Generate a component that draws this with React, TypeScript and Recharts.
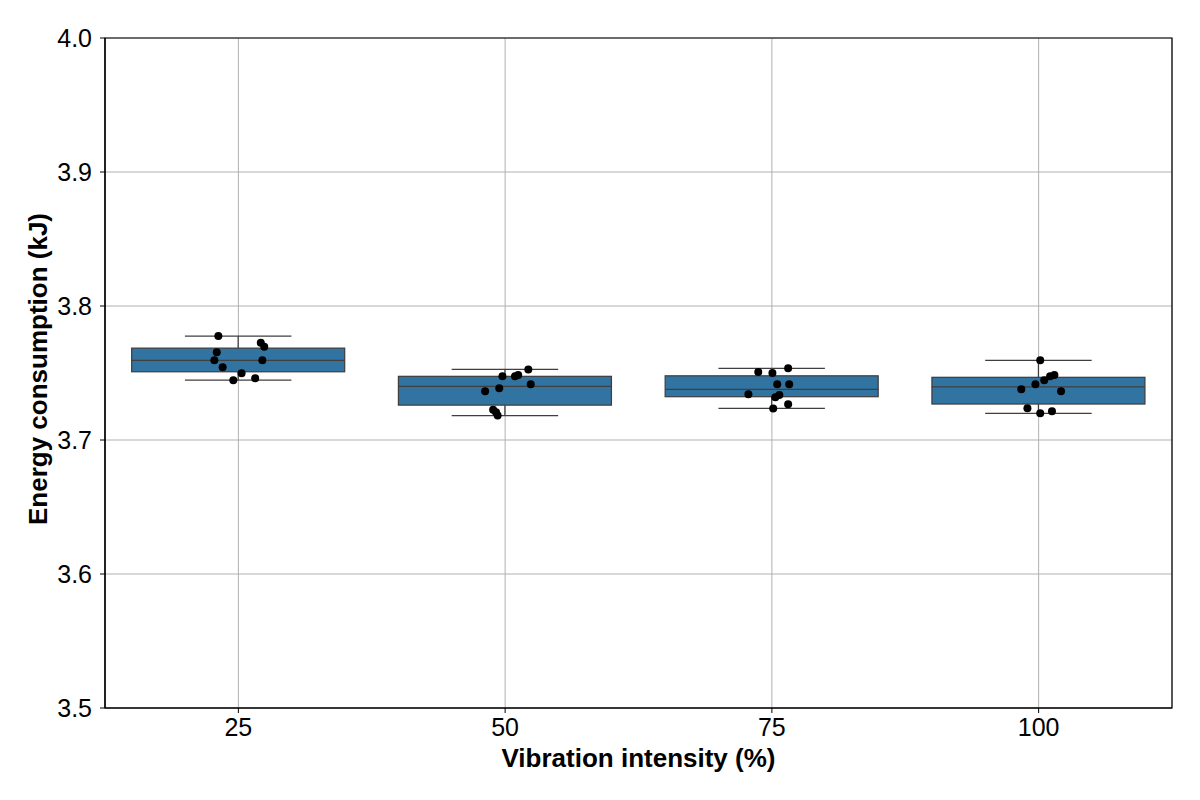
import React from "react"
import {
  Bar,
  CartesianGrid,
  ComposedChart,
  ReferenceArea,
  Scatter,
  XAxis,
  YAxis,
} from "recharts"

// vibration intensity levels (%)
const categories = ["25", "50", "75", "100"]

// measured energy consumption per run (kJ)
const energy25 = [3.7776, 3.7726, 3.7696, 3.7654, 3.7595, 3.7595, 3.7543, 3.7498, 3.746, 3.7446]
const energy50 = [3.7527, 3.7475, 3.7475, 3.7485, 3.7416, 3.7386, 3.7363, 3.7226, 3.7207, 3.7182]
const energy75 = [3.7535, 3.7507, 3.75, 3.7416, 3.7416, 3.7341, 3.7336, 3.7319, 3.7266, 3.7236]
const energy100 = [3.7595, 3.7485, 3.7475, 3.7446, 3.7416, 3.7378, 3.7363, 3.7237, 3.7214, 3.7199]

// horizontal strip-plot jitter, in category widths
const jitter25 = [-0.075, 0.084, 0.097, -0.081, -0.09, 0.09, -0.059, 0.012, 0.063, -0.019]
const jitter50 = [0.087, -0.01, 0.037, 0.049, 0.096, -0.022, -0.075, -0.045, -0.034, -0.028]
const jitter75 = [0.061, -0.051, 0.002, 0.02, 0.065, -0.088, 0.028, 0.013, 0.061, 0.005]
const jitter100 = [0.006, 0.059, 0.043, 0.021, -0.012, -0.065, 0.084, -0.042, 0.05, 0.006]

const yTicks = [3.5, 3.6, 3.7, 3.8, 3.9, 4.0]

const groups = [energy25, energy50, energy75, energy100]
const jitters = [jitter25, jitter50, jitter75, jitter100]

const FONT = "'Liberation Sans', Arial, sans-serif"
const BOX_FILL = "#3274a1"
const BOX_EDGE = "#3f3f3f"

// linear-interpolated quantile, same as pandas/numpy default
function quantile(values: number[], q: number) {
  const s = [...values].sort((a, b) => a - b)
  const pos = (s.length - 1) * q
  const lo = Math.floor(pos)
  const hi = Math.ceil(pos)
  return s[lo] + (s[hi] - s[lo]) * (pos - lo)
}

const boxData = categories.map((name, i) => {
  const vals = groups[i]
  const q1 = quantile(vals, 0.25)
  const median = quantile(vals, 0.5)
  const q3 = quantile(vals, 0.75)
  const iqr = q3 - q1
  const lo = Math.min(...vals.filter((v) => v >= q1 - 1.5 * iqr))
  const hi = Math.max(...vals.filter((v) => v <= q3 + 1.5 * iqr))
  return { name, q1, median, q3, lo, hi, range: [lo, hi] }
})

const pointData = groups.flatMap((vals, i) =>
  vals.map((v, k) => ({ x: i + jitters[i][k], y: v }))
)

// draws whiskers, caps, box and median inside the bar's [lo, hi] extent
const BoxShape = (props: any) => {
  const { x, y, width, height, payload } = props
  const { lo, hi, q1, q3, median } = payload
  const py = (v: number) => y + (height * (hi - v)) / (hi - lo)
  const cx = x + width / 2
  const cap = width / 4
  return (
    <g>
      <line x1={cx} x2={cx} y1={py(hi)} y2={py(q3)} stroke={BOX_EDGE} strokeWidth={1.25} />
      <line x1={cx} x2={cx} y1={py(q1)} y2={py(lo)} stroke={BOX_EDGE} strokeWidth={1.25} />
      <line x1={cx - cap} x2={cx + cap} y1={py(hi)} y2={py(hi)} stroke={BOX_EDGE} strokeWidth={1.25} />
      <line x1={cx - cap} x2={cx + cap} y1={py(lo)} y2={py(lo)} stroke={BOX_EDGE} strokeWidth={1.25} />
      <rect x={x} y={py(q3)} width={width} height={py(q1) - py(q3)} fill={BOX_FILL} stroke={BOX_EDGE} strokeWidth={1.25} />
      <line x1={x} x2={x + width} y1={py(median)} y2={py(median)} stroke={BOX_EDGE} strokeWidth={1.25} />
    </g>
  )
}

const Dot = (props: any) => <circle cx={props.cx} cy={props.cy} r={4} fill="#000" />

const YLabel = (props: any) => {
  const { viewBox } = props
  const cx = viewBox.x + 38
  const cy = viewBox.y + viewBox.height / 2 - 4
  return (
    <text
      x={cx}
      y={cy}
      transform={`rotate(-90, ${cx}, ${cy})`}
      textAnchor="middle"
      dominantBaseline="central"
      fontFamily={FONT}
      fontSize={26}
      fontWeight="bold"
      fill="#000"
    >
      Energy consumption (kJ)
    </text>
  )
}

export default function App() {
  const tickStyle = { fontSize: 25, fill: "#000", fontFamily: FONT }
  return (
    <div style={{ position: "absolute", left: 0, top: 0, background: "#fff" }}>
      <ComposedChart
        width={1200}
        height={800}
        data={boxData}
        margin={{ top: 38, right: 28, bottom: 0, left: 0 }}
        barCategoryGap="10%"
      >
        <CartesianGrid stroke="#b0b0b0" strokeWidth={1} />
        <XAxis
          dataKey="name"
          type="category"
          height={92}
          tick={tickStyle}
          tickSize={5}
          tickMargin={5}
          axisLine={{ stroke: "#000", strokeWidth: 1.2 }}
          tickLine={{ stroke: "#000" }}
          label={{
            value: "Vibration intensity (%)",
            position: "insideBottom",
            offset: 33,
            style: { fontSize: 26, fontWeight: "bold", fill: "#000", fontFamily: FONT },
          }}
        />
        <XAxis xAxisId="num" dataKey="x" type="number" domain={[-0.5, 3.5]} hide />
        <YAxis
          type="number"
          domain={[3.5, 4.0]}
          ticks={yTicks}
          tickFormatter={(v) => v.toFixed(1)}
          width={105}
          tick={tickStyle}
          tickSize={5}
          tickMargin={8}
          axisLine={{ stroke: "#000", strokeWidth: 1.2 }}
          tickLine={{ stroke: "#000" }}
          allowDataOverflow
          label={<YLabel />}
        />
        <Bar dataKey="range" shape={<BoxShape />} isAnimationActive={false} />
        <Scatter
          xAxisId="num"
          data={pointData}
          dataKey="y"
          shape={<Dot />}
          isAnimationActive={false}
        />
        <ReferenceArea
          xAxisId="num"
          x1={-0.5}
          x2={3.5}
          y1={3.5}
          y2={4.0}
          fill="none"
          stroke="#000"
          strokeWidth={1.2}
          fillOpacity={0}
          ifOverflow="visible"
        />
      </ComposedChart>
    </div>
  )
}
